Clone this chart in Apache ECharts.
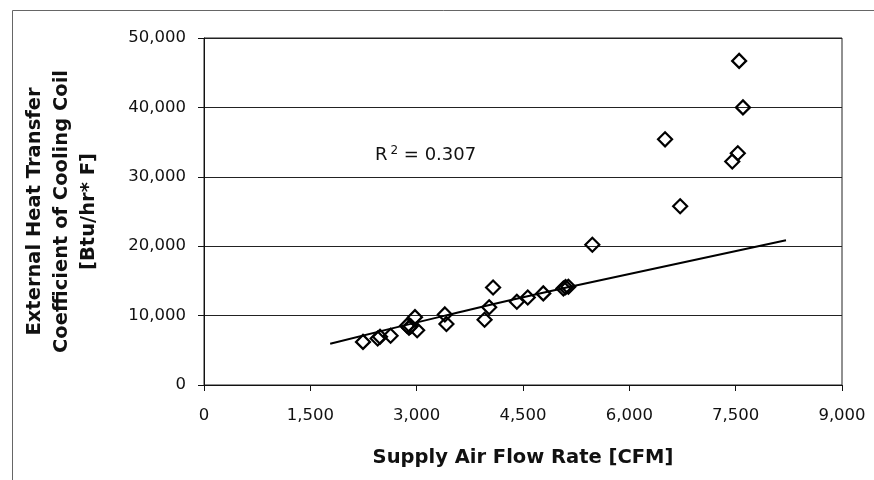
<!DOCTYPE html>
<html>
<head>
<meta charset="utf-8">
<style>
  html, body { margin: 0; padding: 0; background: #fff; }
  #chart { width: 874px; height: 480px; }
</style>
<script src="https://cdn.jsdelivr.net/npm/echarts@6/dist/echarts.min.js"></script>
</head>
<body>
<div id="chart"></div>
<script>
// Supply air flow rate [CFM]
const flowCFM = [7549, 7603, 6504, 7530, 7452, 6717, 5478, 4078, 5070, 5100, 5140,
                 4786, 4567, 4413, 4023, 3958, 3398, 3420, 2976, 3007, 2865, 2892,
                 2915, 2632, 2450, 2483, 2243];
// External heat transfer coefficient [Btu/hr*F]
const coilU = [46700, 40000, 35400, 33400, 32200, 25750, 20200, 14050, 13900, 14100, 14150,
               13200, 12600, 12000, 11200, 9400, 10170, 8800, 9780, 7900, 8550, 8250,
               8450, 7100, 6700, 6950, 6210];
// Trend line
const trendX = [1780, 3400, 5100, 8210];
const trendY = [5950, 10000, 14000, 20870];
const xTicks = [0, 1500, 3000, 4500, 6000, 7500, 9000];
const yTicks = [0, 10000, 20000, 30000, 40000, 50000];
const r2Text = '0.307';

const fmt = v => v.toLocaleString('en-US');
const font = 'DejaVu Sans';

const chart = echarts.init(document.getElementById('chart'), null, { renderer: 'canvas' });
chart.setOption({
  backgroundColor: '#fff',
  animation: false,
  grid: {
    left: 204, right: 32, top: 38, bottom: 95,
    show: true, borderColor: '#222', borderWidth: 1, backgroundColor: 'transparent'
  },
  xAxis: {
    type: 'value',
    min: xTicks[0], max: xTicks[xTicks.length - 1], interval: 1500,
    name: 'Supply Air Flow Rate [CFM]',
    nameLocation: 'middle', nameGap: 63,
    nameTextStyle: { fontFamily: font, fontWeight: 'bold', fontSize: 19.5, color: '#111' },
    axisLine: { show: true, lineStyle: { color: '#111', width: 1 } },
    axisTick: { show: true, inside: false, length: 6, lineStyle: { color: '#111' } },
    axisLabel: { fontFamily: font, fontSize: 16.5, color: '#111', margin: 22, formatter: fmt },
    splitLine: { show: false }
  },
  yAxis: {
    type: 'value',
    min: yTicks[0], max: yTicks[yTicks.length - 1], interval: 10000,
    name: 'External Heat Transfer\nCoefficient of Cooling Coil\n[Btu/hr* F]',
    nameLocation: 'middle', nameGap: 102, nameRotate: 90,
    nameTextStyle: { fontFamily: font, fontWeight: 'bold', fontSize: 19.5, color: '#111', lineHeight: 27, align: 'center' },
    axisLine: { show: true, lineStyle: { color: '#111', width: 1 } },
    axisTick: { show: true, inside: false, length: 6, lineStyle: { color: '#111' } },
    axisLabel: { fontFamily: font, fontSize: 16.5, color: '#111', margin: 18, formatter: fmt },
    splitLine: { show: true, lineStyle: { color: '#222', width: 1 } }
  },
  series: [
    {
      type: 'line',
      data: trendX.map((x, i) => [x, trendY[i]]),
      smooth: true,
      showSymbol: false,
      lineStyle: { color: '#000', width: 2 },
      z: 2
    },
    {
      type: 'scatter',
      data: flowCFM.map((x, i) => [x, coilU[i]]),
      symbol: 'diamond',
      symbolSize: [14, 14],
      itemStyle: { color: 'rgba(0,0,0,0)', borderColor: '#000', borderWidth: 2.2, opacity: 1 },
      z: 3
    }
  ],
  graphic: [
    {
      type: 'rect', left: 10, top: 8, silent: true,
      shape: { width: 900, height: 500 },
      style: { fill: 'none', stroke: '#666', lineWidth: 1 }
    },
    {
      type: 'text', left: 375, top: 145,
      style: {
        text: 'R{sup|2} = ' + r2Text,
        fontFamily: font, fontSize: 18, fill: '#111',
        rich: { sup: { fontFamily: font, fontSize: 12, verticalAlign: 'top', padding: [0, 0, 8, 3] } }
      }
    }
  ]
});
</script>
</body>
</html>
